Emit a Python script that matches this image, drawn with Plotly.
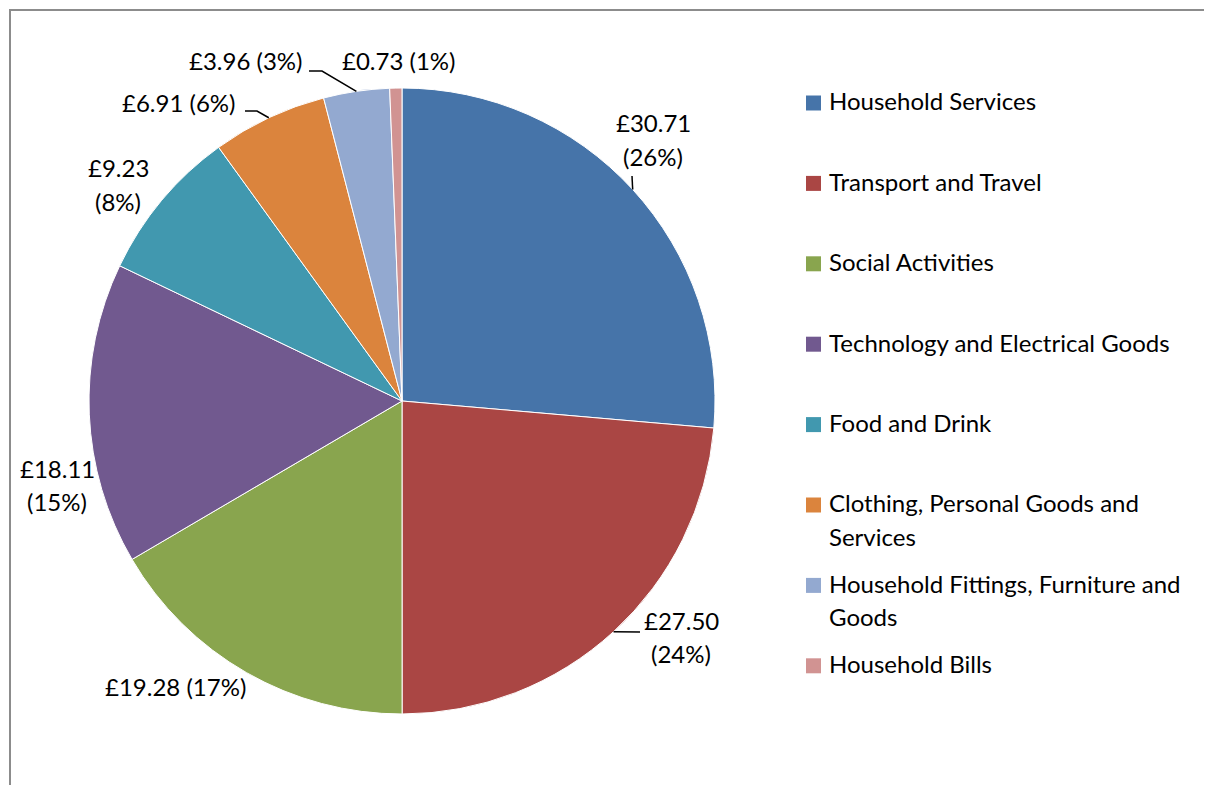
import math
import plotly.graph_objects as go

# ---- data ----
categories = [
    "Household Services",
    "Transport and Travel",
    "Social Activities",
    "Technology and Electrical Goods",
    "Food and Drink",
    "Clothing, Personal Goods and Services",
    "Household Fittings, Furniture and Goods",
    "Household Bills",
]
values = [30.71, 27.50, 19.28, 18.11, 9.23, 6.91, 3.96, 0.73]
percent_labels = [26, 24, 17, 15, 8, 6, 3, 1]

# ---- style / layout ----
colors = ["#4674A9", "#AA4644", "#89A54E", "#71598F", "#4198AF", "#DB843D", "#93A9D0", "#D19392"]
OFF = 8                      # page body margin
W, H = 1212 - OFF, 785 - OFF
CX, CY, R = 402, 401, 313
FONT = "Lato"
FS = 24
LINE = 33
TXT_DY = -2                  # vertical nudge for text baseline match

# label layout: centre x, first-line y, wrap into two lines?
label_pos = [(653, 125), (681, 622), (175, 688), (57, 470), (118, 170), (179, 104), (245, 63), (398, 62)]
label_wrap = [True, True, False, True, True, False, False, False]
# leader line bend points (from the slice edge outward)
leaders = {0: [(632, 176)], 1: [(640, 632)], 5: [(257, 111), (245, 111)], 6: [(322, 71), (309, 71)]}

# legend layout
LEG_X_SQ, LEG_X_TXT, LEG_Y0, LEG_STEP, SQ = 806, 827, 103, 80.4, 15
legend_lines = [
    ["Household Services"],
    ["Transport and Travel"],
    ["Social Activities"],
    ["Technology and Electrical Goods"],
    ["Food and Drink"],
    ["Clothing, Personal Goods and", "Services"],
    ["Household Fittings, Furniture and", "Goods"],
    ["Household Bills"],
]


def px(x):
    return (x - OFF) / W


def py(y):
    return 1 - (y - OFF) / H


fig = go.Figure(
    go.Pie(
        labels=categories,
        values=values,
        sort=False,
        direction="clockwise",
        rotation=0,
        marker=dict(colors=colors, line=dict(color="white", width=1)),
        textinfo="none",
        hoverinfo="label+value+percent",
        showlegend=False,
        domain=dict(x=[px(CX - R), px(CX + R)], y=[py(CY + R), py(CY - R)]),
    )
)

annotations = []
shapes = []

total = sum(values)
cum = 0.0
for i, v in enumerate(values):
    mid = (cum + v / 2) / total * 2 * math.pi
    cum += v
    ex = CX + R * math.sin(mid)
    ey = CY - R * math.cos(mid)
    amount = f"£{v:.2f}"
    pct = f"({percent_labels[i]}%)"
    lines = [amount, pct] if label_wrap[i] else [f"{amount} {pct}"]
    lx, ly = label_pos[i]
    for k, t in enumerate(lines):
        annotations.append(dict(
            x=px(lx), y=py(ly + k * LINE + TXT_DY), xref="paper", yref="paper",
            text=t, showarrow=False, xanchor="center", yanchor="middle",
            font=dict(family=FONT, size=FS, color="black"),
        ))
    if i in leaders:
        pts = [(ex, ey)] + leaders[i]
        path = "M " + " L ".join(f"{px(a)},{py(b)}" for a, b in pts)
        shapes.append(dict(type="path", path=path, xref="paper", yref="paper",
                           line=dict(color="black", width=1.5)))

# legend
for i, lines in enumerate(legend_lines):
    yc = LEG_Y0 + i * LEG_STEP
    shapes.append(dict(type="rect", xref="paper", yref="paper",
                       x0=px(LEG_X_SQ), x1=px(LEG_X_SQ + SQ),
                       y0=py(yc - SQ / 2), y1=py(yc + SQ / 2),
                       fillcolor=colors[i], line=dict(width=0)))
    for k, t in enumerate(lines):
        annotations.append(dict(
            x=px(LEG_X_TXT), y=py(yc + k * LINE + TXT_DY), xref="paper", yref="paper",
            text=t, showarrow=False, xanchor="left", yanchor="middle",
            font=dict(family=FONT, size=FS, color="black"),
        ))

# outer chart frame
shapes.append(dict(type="rect", xref="paper", yref="paper",
                   x0=px(10), y0=py(10), x1=px(1212 + 10), y1=py(785 + 10),
                   line=dict(color="#8C8C8C", width=2), fillcolor="rgba(0,0,0,0)"))

fig.update_layout(
    width=W, height=H,
    margin=dict(l=0, r=0, t=0, b=0),
    paper_bgcolor="white", plot_bgcolor="white",
    annotations=annotations, shapes=shapes,
    showlegend=False,
)

fig.write_html("out.html")
